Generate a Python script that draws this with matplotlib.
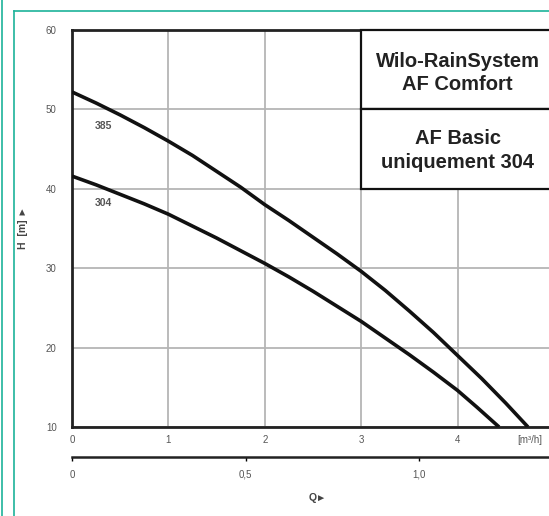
"""
Pump curves H(Q) for Wilo-RainSystem AF Comfort / AF Basic.
"""

import matplotlib.pyplot as plt
from matplotlib.lines import Line2D
from matplotlib.patches import Rectangle
from matplotlib.ticker import FixedLocator, FixedFormatter

plt.rcParams['font.family'] = ['Liberation Sans', 'DejaVu Sans']

# Data
# ----------------------------------------------------------------------------

q_385 = [0.0, 0.25, 0.5, 0.75, 1.0, 1.25, 1.5, 1.75, 2.0, 2.25, 2.5, 2.75,
         3.0, 3.25, 3.5, 3.75, 4.0, 4.25, 4.5, 4.73]
h_385 = [52.2, 50.8, 49.3, 47.7, 46.0, 44.2, 42.2, 40.2, 38.0, 36.0, 33.9, 31.8,
         29.6, 27.2, 24.6, 21.9, 19.0, 16.1, 13.0, 10.0]

q_304 = [0.0, 0.25, 0.5, 0.75, 1.0, 1.25, 1.5, 1.75, 2.0, 2.25, 2.5, 2.75,
         3.0, 3.25, 3.5, 3.75, 4.0, 4.2, 4.43]
h_304 = [41.6, 40.5, 39.3, 38.1, 36.8, 35.3, 33.8, 32.2, 30.6, 28.9, 27.1, 25.2,
         23.3, 21.2, 19.1, 16.9, 14.6, 12.5, 10.0]

x_ticks = [0, 1, 2, 3, 4]
y_ticks = [10, 20, 30, 40, 50, 60]
ls_ticks = [0, 0.5, 1.0]
ls_labels = ['0', '0,5', '1,0']

box_top = 'Wilo-RainSystem\nAF Comfort'
box_bottom = 'AF Basic\nuniquement 304'

# Plot
# ----------------------------------------------------------------------------

W, H = 549, 516
fig = plt.figure(figsize=(W / 100, H / 100), dpi=100)
teal = '#1db39a'

# teal page frame
fig.add_artist(Line2D([1.5 / W, 1.5 / W], [0, 1], color=teal, lw=1.2))
fig.add_artist(Line2D([14 / W, 14 / W], [0, 1 - 11 / H], color=teal, lw=1.2))
fig.add_artist(Line2D([14 / W, 1], [1 - 11 / H, 1 - 11 / H], color=teal, lw=1.2))

left, right, top, bottom = 72, 554, 30, 427
ax = fig.add_axes([left / W, 1 - bottom / H, (right - left) / W, (bottom - top) / H])

ax.plot(q_385, h_385, color='#111111', lw=2.6, solid_capstyle='butt', zorder=4)
ax.plot(q_304, h_304, color='#111111', lw=2.6, solid_capstyle='butt', zorder=4)

ax.text(0.33, 47.9, '385', fontsize=7.5, fontweight='bold', color='#555555',
        ha='center', va='center')
ax.text(0.33, 38.2, '304', fontsize=7.5, fontweight='bold', color='#555555',
        ha='center', va='center')

ax.set_xlim(0, 5)
ax.set_ylim(10, 60)
ax.xaxis.set_major_locator(FixedLocator(x_ticks))
ax.yaxis.set_major_locator(FixedLocator(y_ticks))
ax.tick_params(length=0, labelsize=7, labelcolor='#555555')
ax.tick_params(axis='x', pad=6)
ax.tick_params(axis='y', pad=11)
ax.grid(True, color='#b5b5b5', lw=1.3)
ax.set_axisbelow(True)
for s in ax.spines.values():
    s.set_linewidth(2.0)
    s.set_color('#222222')

ax.annotate('[m³/h]', (4.62, 10), xytext=(0, -6), textcoords='offset points',
            fontsize=7, color='#555555', ha='left', va='top',
            annotation_clip=False)

# legend box
ax.add_patch(Rectangle((3, 50), 2.2, 10, facecolor='white', edgecolor='#111111',
                       lw=1.6, zorder=5, clip_on=False))
ax.add_patch(Rectangle((3, 40), 2.2, 10, facecolor='white', edgecolor='#111111',
                       lw=1.6, zorder=5, clip_on=False))
ax.text(4.0, 54.6, box_top, fontsize=14.5, fontweight='bold', color='#222222',
        ha='center', va='center', linespacing=1.3, zorder=6)
ax.text(4.0, 44.8, box_bottom, fontsize=14.5, fontweight='bold', color='#222222',
        ha='center', va='center', linespacing=1.3, zorder=6)

# secondary Q axis in l/s
sec = ax.secondary_xaxis(-(457 - bottom) / (bottom - top),
                         functions=(lambda q: q / 3.6, lambda l: l * 3.6))
sec.xaxis.set_major_locator(FixedLocator(ls_ticks))
sec.xaxis.set_major_formatter(FixedFormatter(ls_labels))
sec.tick_params(length=3, width=1, labelsize=7, labelcolor='#555555', pad=6)
sec.spines['bottom'].set_linewidth(1.8)
sec.spines['bottom'].set_color('#222222')

fig.text(23 / W, 1 - 228 / H, 'H  [m] ►', rotation=90, fontsize=7.5,
         fontweight='bold', color='#444444', ha='center', va='center')
fig.text(318 / W, 1 - 498 / H, 'Q►', fontsize=7.5, fontweight='bold',
         color='#444444', ha='center', va='center')

fig.savefig('out.png', dpi=100)
